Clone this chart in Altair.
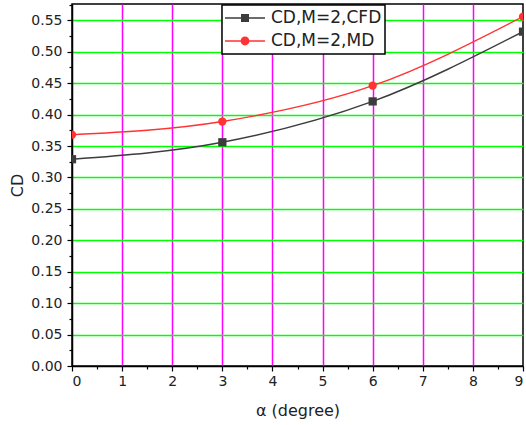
import altair as alt
import pandas as pd

alpha = [0, 3, 6, 9]
cd_cfd = [0.329, 0.356, 0.421, 0.532]
cd_md = [0.368, 0.389, 0.446, 0.556]
series_names = ["CD,M=2,CFD", "CD,M=2,MD"]
colors = ["#3c3c3c", "#ff3333"]

rows = []
for a, v in zip(alpha, cd_cfd):
    rows.append({"alpha": a, "CD": v, "series": series_names[0]})
for a, v in zip(alpha, cd_md):
    rows.append({"alpha": a, "CD": v, "series": series_names[1]})
df = pd.DataFrame(rows)

FONT = "DejaVu Sans"
x_vals = [i * 0.5 for i in range(19)]
y_vals = [round(i * 0.025, 3) for i in range(24)]

x_major = "abs(datum.value - round(datum.value)) < 0.001"
y_major = "abs(datum.value*20 - round(datum.value*20)) < 0.001"

x_scale = alt.Scale(domain=[0, 9], nice=False, zero=False)
y_scale = alt.Scale(domain=[0, 0.576], nice=False)

x_axis = alt.Axis(
    values=x_vals,
    title="α (degree)",
    labelExpr=f"({x_major}) ? format(datum.value, 'd') : ''",
    labelOverlap=False,
    labelFont=FONT, labelFontSize=14, labelColor="#222",
    titleFont=FONT, titleFontSize=16, titleFontWeight="normal", titleColor="#222",
    titlePadding=14,
    domainColor="black", domainWidth=1.5,
    tickColor="black", tickWidth=1.2,
    tickSize={"condition": {"test": x_major, "value": 5}, "value": 3},
    gridColor="#ff00ff", gridWidth=1.5,
    gridOpacity={"condition": {"test": f"({x_major}) && datum.value > 0.5 && datum.value < 8.5", "value": 1}, "value": 0},
    labelPadding=3,
)
y_axis = alt.Axis(
    values=y_vals,
    title="CD",
    labelExpr=f"({y_major}) ? format(datum.value, '.2f') : ''",
    labelOverlap=False,
    labelFont=FONT, labelFontSize=14, labelColor="#222",
    titleFont=FONT, titleFontSize=16, titleFontWeight="normal", titleColor="#222",
    titlePadding=5,
    domainColor="black", domainWidth=1.5,
    tickColor="black", tickWidth=1.2,
    tickSize={"condition": {"test": y_major, "value": 5}, "value": 3},
    gridColor="#00ff00", gridWidth=1.5,
    gridOpacity={"condition": {"test": f"({y_major}) && datum.value > 0.01", "value": 1}, "value": 0},
    labelPadding=5,
)

X = alt.X("alpha:Q", scale=x_scale, axis=x_axis)
Y = alt.Y("CD:Q", scale=y_scale, axis=y_axis)

color_scale = alt.Scale(domain=series_names, range=colors)

base = alt.Chart(df)

def series_layers(name, color, shape):
    sub = base.transform_filter(alt.datum.series == name)
    ln = sub.mark_line(interpolate="monotone", strokeWidth=1.4, clip=True, color=color).encode(x=X, y=Y)
    pt = sub.mark_point(filled=True, opacity=1, clip=True, shape=shape, size=68, color=color).encode(x=X, y=Y)
    return [ln, pt]

layers = series_layers(series_names[0], colors[0], "square") + series_layers(series_names[1], colors[1], "circle")

line_part = "M-1,-0.035H1V0.035H-1Z"
sq_path = line_part + " M-0.2,-0.2H0.2V0.2H-0.2Z"
ci_path = line_part + " M-0.22,0A0.22,0.22 0 1,1 0.22,0A0.22,0.22 0 1,1 -0.22,0Z"

leg = alt.Legend(
    title=None, orient="none", legendX=150, legendY=1,
    symbolSize=1600, symbolOpacity=1, symbolStrokeWidth=0,
    labelFont=FONT, labelFontSize=17, labelColor="#222",
    labelOffset=6, padding=3, rowPadding=3, clipHeight=20,
    strokeColor="black", fillColor="white",
)

legend_layer = base.transform_filter("false").mark_point(filled=True, opacity=1).encode(
    x=X, y=Y,
    color=alt.Color("series:N", scale=color_scale, legend=leg),
    shape=alt.Shape("series:N", scale=alt.Scale(domain=series_names, range=[sq_path, ci_path]), legend=leg),
)

chart = alt.layer(*layers, legend_layer).properties(
    width=451, height=362,
    background="white",
    autosize=alt.AutoSizeParams(type="none"),
    padding={"left": 72, "top": 4, "right": 3, "bottom": 59},
).configure_view(
    stroke="black", strokeWidth=1.5
).configure_legend(
    strokeWidth=1.5
)

chart.save("out.html", embed_options={"renderer": "svg", "actions": False})
